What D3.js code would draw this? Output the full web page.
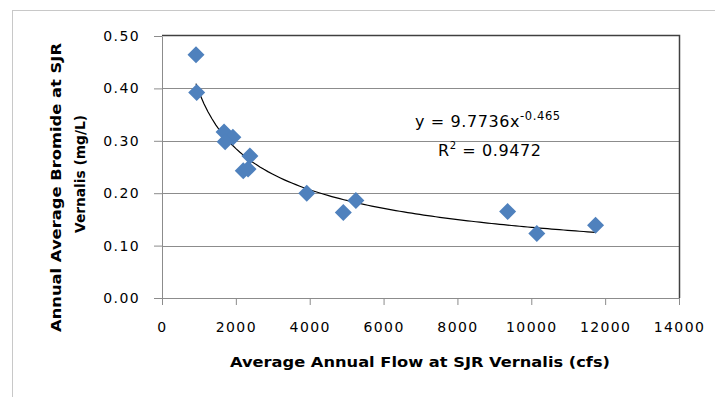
<!DOCTYPE html>
<html>
<head>
<meta charset="utf-8">
<script src="https://cdn.jsdelivr.net/npm/d3@7"></script>
<style>
  body { margin: 0; background: #fff; }
  svg { display: block; }
  text { font-family: "DejaVu Sans", Verdana, sans-serif; fill: #000; }
</style>
</head>
<body>
<div id="vis"></div>
<script>
// data
var flow     = [920, 940, 1680, 1920, 1710, 2200, 2330, 2380, 3920, 4910, 5250, 9360, 10150, 11740];
var bromide  = [0.464, 0.392, 0.317, 0.307, 0.298, 0.243, 0.246, 0.271, 0.200, 0.163, 0.186, 0.165, 0.123, 0.139];
var xTicks   = [0, 2000, 4000, 6000, 8000, 10000, 12000, 14000];
var yTicks   = [0, 0.1, 0.2, 0.3, 0.4, 0.5];
var trendA   = 9.7736, trendB = -0.465, rSquared = "0.9472";

var margin = {top: 36, right: 36, bottom: 99, left: 162},
    width = 715 - margin.left - margin.right,
    height = 397 - margin.top - margin.bottom;

var svg = d3.select('#vis')
  .append('svg')
  .attr('width', 715)
  .attr('height', 397);

// chart area frame (runs off the right and bottom)
svg.append('rect')
  .attr('x', 12.5).attr('y', 10.5)
  .attr('width', 760).attr('height', 420)
  .attr('fill', 'none')
  .attr('stroke', '#c8c8c8');

var g = svg.append('g')
  .attr('transform', 'translate(' + margin.left + ',' + margin.top + ')');

var x = d3.scaleLinear().domain([0, 14000]).range([0, 517]);
var y = d3.scaleLinear().domain([0, 0.5]).range([262, 0]);

// gridlines
g.selectAll('.grid')
  .data(yTicks.slice(1, -1))
  .enter()
  .append('line')
  .attr('x1', 0).attr('x2', x(14000))
  .attr('y1', function (d) { return Math.round(y(d)) + 0.5 })
  .attr('y2', function (d) { return Math.round(y(d)) + 0.5 })
  .attr('stroke', '#8c8c8c');

// plot border top & right
g.append('path')
  .attr('d', 'M0,' + (y(0.5) - 0.5) + 'H' + (x(14000) + 0.5) + 'V' + y(0))
  .attr('fill', 'none')
  .attr('stroke', '#404040')
  .attr('stroke-width', 1.5);

var xAxis = d3.axisBottom(x).tickValues(xTicks).tickSize(7).tickSizeOuter(0).tickPadding(17)
  .tickFormat(d3.format('d'));
var yAxis = d3.axisLeft(y).tickValues(yTicks).tickSize(8).tickSizeOuter(0).tickPadding(14)
  .tickFormat(d3.format('.2f'));

var gx = g.append('g')
  .attr('transform', 'translate(0,' + y(0) + ')')
  .call(xAxis);
var gy = g.append('g').call(yAxis);

[gx, gy].forEach(function (a) {
  a.selectAll('path, line').attr('stroke', '#8c8c8c');
  a.selectAll('text')
    .style('font-size', '14px')
    .style('letter-spacing', '1.4px')
    .attr('fill', '#000');
});

// power trendline from min to max flow
var xMin = d3.min(flow), xMax = d3.max(flow);
var trendPts = d3.range(0, 101).map(function (i) {
  var xv = xMin + (xMax - xMin) * i / 100;
  return [xv, trendA * Math.pow(xv, trendB)];
});
g.append('path')
  .datum(trendPts)
  .attr('d', d3.line()
    .x(function (d) { return x(d[0]) })
    .y(function (d) { return y(d[1]) }))
  .attr('fill', 'none')
  .attr('stroke', '#000')
  .attr('stroke-width', 1.2);

// diamond markers
var points = flow.map(function (f, i) { return {flow: f, br: bromide[i]} });
g.selectAll('.pt')
  .data(points)
  .enter()
  .append('path')
  .attr('class', 'pt')
  .attr('d', 'M0,-8.5L8.5,0L0,8.5L-8.5,0Z')
  .attr('transform', function (d) { return 'translate(' + x(d.flow) + ',' + y(d.br) + ')' })
  .attr('fill', '#4f81bd');

// equation labels
var eq = g.append('text')
  .attr('x', 415 - margin.left)
  .attr('y', 127 - margin.top)
  .style('font-size', '16px')
  .style('letter-spacing', '0.6px');
eq.append('tspan').text('y = ' + trendA + 'x');
eq.append('tspan').attr('dy', -7).style('font-size', '11.5px').text(trendB.toFixed(3));

var r2 = g.append('text')
  .attr('x', 438 - margin.left)
  .attr('y', 156 - margin.top)
  .style('font-size', '16px')
  .style('letter-spacing', '0.6px');
r2.append('tspan').text('R');
r2.append('tspan').attr('dy', -7).style('font-size', '10px').text('2');
r2.append('tspan').attr('dy', 7).text(' = ' + rSquared);

// axis titles
svg.append('text')
  .attr('x', 230)
  .attr('y', 367)
  .attr('textLength', 380)
  .attr('lengthAdjust', 'spacingAndGlyphs')
  .style('font-size', '14.5px')
  .style('font-weight', 'bold')
  .text('Average Annual  Flow at SJR Vernalis (cfs)');

var yTitle = svg.append('text')
  .attr('transform', 'rotate(-90)')
  .style('font-size', '14.5px')
  .style('font-weight', 'bold');
yTitle.append('tspan').attr('x', -332).attr('y', 61)
  .attr('textLength', 289).attr('lengthAdjust', 'spacingAndGlyphs')
  .text('Annual Average  Bromide at SJR');
yTitle.append('tspan').attr('x', -233).attr('y', 85)
  .attr('textLength', 118).attr('lengthAdjust', 'spacingAndGlyphs')
  .text('Vernalis  (mg/L)');
</script>
</body>
</html>
